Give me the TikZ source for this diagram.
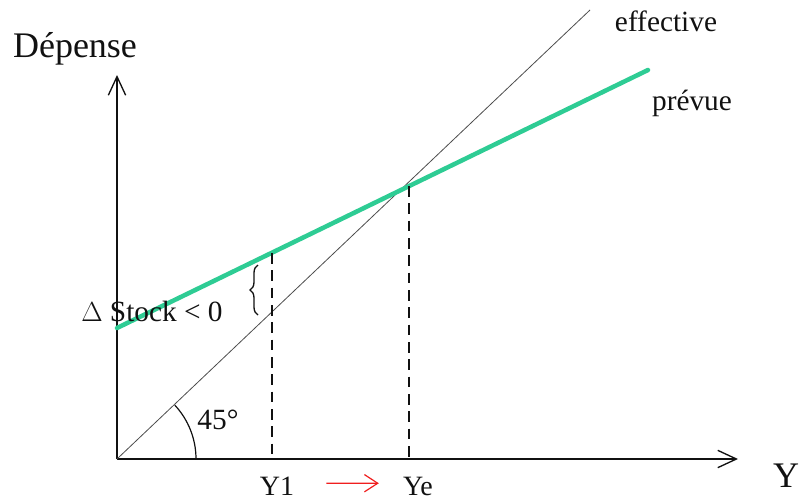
\documentclass[tikz,border=0pt]{standalone}
\usepackage{fontspec}
\setmainfont{Liberation Serif}
\usepackage{xcolor}
\usetikzlibrary{arrows.meta, decorations.pathreplacing}
\definecolor{planned}{HTML}{2ECC94}
\definecolor{ink}{HTML}{111111}
\definecolor{shift}{HTML}{F01E1E}
\tikzset{
  axis/.style={-{Straight Barb[length=14pt,width=13pt,line width=1pt]}, line width=1.2pt, draw=ink},
  actual/.style={line width=0.6pt, draw=ink!75},
  plannedline/.style={line width=3.4pt, draw=planned},
  guide/.style={dashed, dash pattern=on 8pt off 5pt, line width=1.1pt, draw=ink},
  label/.style={font=\fontsize{22}{24}\selectfont, text=ink, inner sep=0pt, anchor=base},
  biglabel/.style={font=\fontsize{27}{30}\selectfont, text=ink, inner sep=0pt, anchor=base},
  tick/.style={font=\fontsize{21}{24}\selectfont, text=ink, inner sep=0pt, anchor=base},
  shiftarrow/.style={-{Straight Barb[length=10pt,width=13pt]}, line width=0.9pt, draw=shift},
}
\begin{document}
\begin{tikzpicture}[x=0.75pt, y=-0.75pt]
  \useasboundingbox (0,0) rectangle (801,504);

  \coordinate (O) at (117,459);
  \coordinate (ytop) at (117,75);
  \coordinate (xend) at (738,459);
  \coordinate (eff) at (590,10);
  \coordinate (pstart) at (117,328);
  \coordinate (pend) at (648,70);
  \coordinate (E) at (409,186);
  \coordinate (A) at (272,253);
  \coordinate (Ebase) at (409,459);
  \coordinate (Abase) at (272,459);

  % axes
  \draw[axis] (O) -- (ytop);
  \draw[axis] (O) -- (xend);

  % 45 degree line and planned spending
  \draw[actual] (O) -- (eff);
  \draw[plannedline, line cap=round] (pstart) -- (pend);

  % guides
  \draw[guide] (E) -- (Ebase);
  \draw[guide] (A) -- (Abase);

  % angle
  \draw[line width=0.9pt, draw=ink] ([shift={(79,0)}]O) arc[start angle=0, end angle=-43, radius=79];

  % brace for the stock change
  \coordinate (bbot) at (258,315);
  \coordinate (btop) at (258,265);
  \draw[line width=1pt, draw=ink, decorate, decoration={brace, amplitude=6pt}] (bbot) -- (btop);

  \node[biglabel] (dep) at (75,57) {Dépense};
  \node[biglabel] (yax) at (786,487) {Y};
  \node[label] (effl) at (666,31) {effective};
  \node[label] (prev) at (692,110) {prévue};
  \node[label] (stock) at (152,321) {$\Delta$ Stock < 0};
  \node[label] (ang) at (218,429) {45°};
  \node[tick] (y1) at (277,495) {Y1};
  \node[tick] (ye) at (418,495) {Ye};

  \draw[shiftarrow, shorten <=24pt, shorten >=18pt] ([yshift=2pt]y1.east) -- ([yshift=2pt]ye.west);
\end{tikzpicture}
\end{document}
